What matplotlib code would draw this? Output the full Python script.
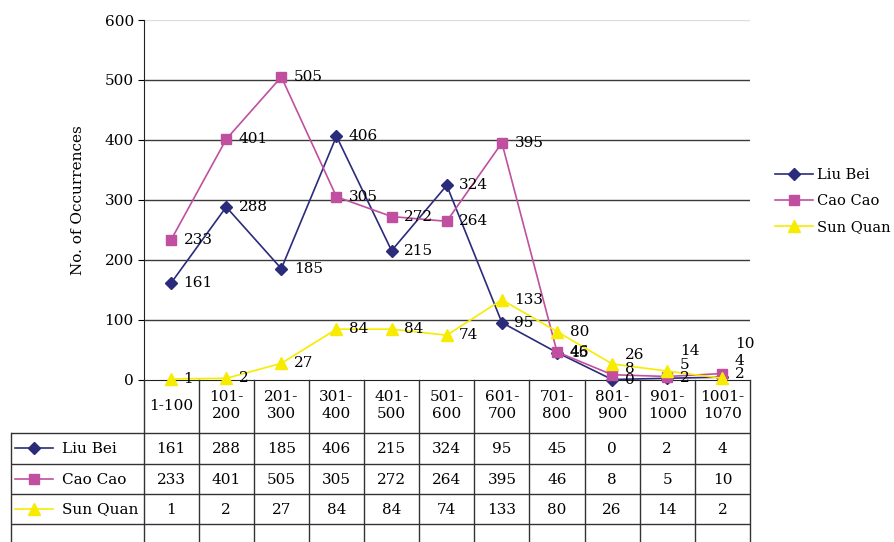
import matplotlib.pyplot as plt

# データ
categories = ["1-100", "101-\n200", "201-\n300", "301-\n400", "401-\n500", "501-\n600",
              "601-\n700", "701-\n800", "801-\n900", "901-\n1000", "1001-\n1070"]
liu_bei = [161, 288, 185, 406, 215, 324, 95, 45, 0, 2, 4]
cao_cao = [233, 401, 505, 305, 272, 264, 395, 46, 8, 5, 10]
sun_quan = [1, 2, 27, 84, 84, 74, 133, 80, 26, 14, 2]
series_names = ["Liu Bei", "Cao Cao", "Sun Quan"]
y_ticks = [0, 100, 200, 300, 400, 500, 600]

# 見た目
colors = ["#2B2B7C", "#C0509F", "#F7EC00"]
markers = ["D", "s", "^"]
msizes = [6, 6.5, 8]
# 込み合ったラベルを上へずらす量 (pt)
label_nudge = {(1, 8): 4.3, (2, 8): 6.5, (1, 9): 8.6, (2, 9): 14.4,
               (1, 10): 21.6, (0, 10): 11.5, (2, 10): 2.9}

plt.rcParams['font.family'] = ['DejaVu Serif']
fs = 11

W, H = 894, 542
fig = plt.figure(figsize=(W / 100, H / 100), dpi=100)

x0, x1, ytop, ybot = 143.5, 750, 20, 379.5
ax = fig.add_axes([x0 / W, 1 - ybot / H, (x1 - x0) / W, (ybot - ytop) / H])
xs = list(range(len(categories)))
all_series = [liu_bei, cao_cao, sun_quan]

for si, (name, vals) in enumerate(zip(series_names, all_series)):
    ax.plot(xs, vals, color=colors[si], marker=markers[si], ms=msizes[si],
            lw=1.2, label=name, clip_on=False, zorder=3 + si)
    for i, v in enumerate(vals):
        ax.annotate(str(v), (i, v), xytext=(9, label_nudge.get((si, i), 0)),
                    textcoords="offset points", ha="left", va="center",
                    fontsize=fs, zorder=12 - si)

ax.set_xlim(-0.5, len(categories) - 0.5)
ax.set_ylim(0, 600)
ax.set_yticks(y_ticks)
ax.set_xticks([])
for y in y_ticks[1:-1]:
    ax.axhline(y, color="#3a3a3a", lw=1, zorder=1)
ax.axhline(600, color="#dddddd", lw=1, zorder=1)
for s in ["top", "right"]:
    ax.spines[s].set_visible(False)
ax.spines["bottom"].set_color("#222222")
ax.spines["left"].set_color("#222222")
ax.tick_params(axis="y", direction="out", length=4, pad=3, labelsize=fs)
ax.set_ylabel("No. of Occurrences", fontsize=fs, labelpad=14)

# データテーブル
t_left = 11
tax = fig.add_axes([t_left / W, 0, (x1 - t_left) / W, (H - ybot) / H])
tax.set_xlim(-0.5 - (x0 - t_left) / ((x1 - x0) / len(categories)), len(categories) - 0.5)
tax.set_ylim(H - ybot, 0)
tax.axis("off")
lc = "#333333"
row_lines = [53, 84, 114, 144]
xl = tax.get_xlim()[0]
for k in range(len(categories) + 1):
    tax.plot([k - 0.5, k - 0.5], [0, H - ybot], color=lc, lw=1, clip_on=False)
tax.plot([xl, xl], [row_lines[0], H - ybot], color=lc, lw=1, clip_on=False)
for r in row_lines:
    tax.plot([xl, len(categories) - 0.5], [r, r], color=lc, lw=1)

for i, c in enumerate(categories):
    tax.text(i, 26, c, ha="center", va="center", fontsize=fs, linespacing=1.25)

for si, (name, vals) in enumerate(zip(series_names, all_series)):
    yc = (row_lines[si] + row_lines[si + 1]) / 2
    for i, v in enumerate(vals):
        tax.text(i, yc + 1, str(v), ha="center", va="center", fontsize=fs)
    kx = [xl + 0.08, xl + 0.77]
    tax.plot(kx, [yc, yc], color=colors[si], lw=1.2)
    tax.plot([sum(kx) / 2], [yc], color=colors[si], marker=markers[si], ms=msizes[si])
    tax.text(xl + 0.92, yc + 1, name, ha="left", va="center", fontsize=fs)

# 凡例
fig.legend(loc="center left", bbox_to_anchor=(762 / W, 1 - 201 / H), frameon=False,
           fontsize=10.5, handlelength=2.6, handletextpad=0.3, labelspacing=0.8)

fig.savefig("out.png", dpi=100)
